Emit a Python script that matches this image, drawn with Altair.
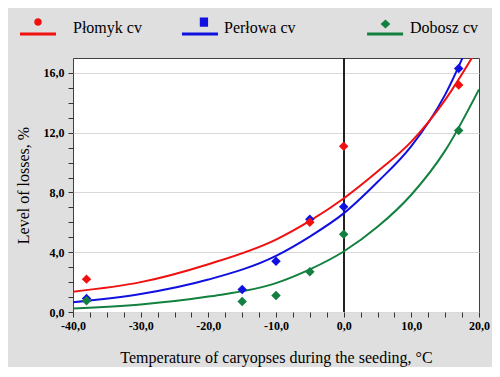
import altair as alt
import pandas as pd

series = ["Płomyk cv", "Perłowa cv", "Dobosz cv"]
colors = ["#f01010", "#1010e0", "#138040"]

plomyk_t = [-38, -5, 0, 17]
plomyk_v = [2.2, 6.0, 11.1, 15.2]
perlowa_t = [-38, -15, -10, -5, 0, 17]
perlowa_v = [0.9, 1.5, 3.4, 6.2, 7.05, 16.3]
dobosz_t = [-38, -15, -10, -5, 0, 17]
dobosz_v = [0.75, 0.7, 1.1, 2.7, 5.2, 12.15]

# trend curves
curve_t = [-40, -30, -20, -10, -5, 0, 5, 10, 15, 20]
plomyk_fit = [1.36, 2.0, 3.2, 4.85, 6.1, 7.6, 9.4, 11.4, 14.2, 17.8]
perlowa_fit = [0.65, 1.2, 2.17, 3.76, 5.05, 6.6, 8.7, 11.1, 14.55, 19.6]
dobosz_fit = [0.23, 0.5, 1.03, 1.93, 2.85, 4.05, 5.7, 7.85, 10.8, 14.9]

x_ticks = [-40 + 2.5 * i for i in range(25)]
y_ticks = list(range(0, 17))

pts_rows = []
for name, ts, vs in [(series[1], perlowa_t, perlowa_v), (series[2], dobosz_t, dobosz_v), (series[0], plomyk_t, plomyk_v)]:
    for t, v in zip(ts, vs):
        pts_rows.append({"series": name, "t": t, "v": v})
pts = pd.DataFrame(pts_rows)

curve_rows = []
for name, vs in [(series[1], perlowa_fit), (series[2], dobosz_fit), (series[0], plomyk_fit)]:
    for t, v in zip(curve_t, vs):
        curve_rows.append({"series": name, "t": t, "v": v})
curves = pd.DataFrame(curve_rows)

FONT = "Liberation Serif"

x_axis = alt.Axis(
    values=x_ticks,
    labelExpr="(datum.value % 10 === 0) ? ((datum.value < 0 ? '-' : '') + replace(format(abs(datum.value), '.1f'), '.', ',')) : ''",
    labelOverlap=False, labelFlush=False,
    gridOpacity={"condition": {"test": "datum.value % 10 === 0", "value": 1}, "value": 0},
    gridColor="#d9d9d9", gridWidth=1,
    domain=False, tickColor="#333333", tickSize=5, tickWidth=1,
    labelFont=FONT, labelFontSize=12, labelFontWeight="bold", labelColor="black", labelPadding=3,
    title="Temperature of caryopses during the seeding, °C",
    titleFont=FONT, titleFontSize=16, titleFontWeight="normal", titleColor="black", titlePadding=18,
)
y_axis = alt.Axis(
    values=y_ticks,
    labelExpr="(datum.value % 4 === 0) ? replace(format(datum.value, '.1f'), '.', ',') : ''",
    labelOverlap=False, labelFlush=False,
    gridOpacity={"condition": {"test": "datum.value % 4 === 0", "value": 1}, "value": 0},
    gridColor="#d9d9d9", gridWidth=1,
    domain=False, tickColor="#333333", tickSize=5, tickWidth=1,
    labelFont=FONT, labelFontSize=12, labelFontWeight="bold", labelColor="black", labelPadding=4,
    title="Level of losses, %",
    titleFont=FONT, titleFontSize=16, titleFontWeight="normal", titleColor="black", titlePadding=12,
)

x_scale = alt.Scale(domain=[-40, 20], nice=False, zero=False)
y_scale = alt.Scale(domain=[0, 17], nice=False, zero=False)
x_enc = alt.X("t:Q", scale=x_scale, axis=x_axis)
y_enc = alt.Y("v:Q", scale=y_scale, axis=y_axis)

# legend scale (shown) and a drawing scale listed in another order so that
# the hidden-legend channels are not merged with the visible legend
col_scale = alt.Scale(domain=series, range=colors)
draw_scale = alt.Scale(domain=series[::-1], range=colors[::-1])

lines = alt.Chart(curves).mark_line(strokeWidth=2, interpolate="monotone", clip=True).encode(
    x=x_enc, y=y_enc,
    stroke=alt.Stroke("series:N", scale=draw_scale, legend=None),
    detail="series:N",
)

zero_rule = alt.Chart(pts).mark_rule(color="#222222", strokeWidth=1.2).encode(x=alt.X(datum=0, scale=x_scale, axis=x_axis))

points = alt.Chart(pts).mark_point(filled=True, shape="diamond", size=90, opacity=1, clip=True).encode(
    x=x_enc, y=y_enc,
    fill=alt.Fill("series:N", scale=draw_scale, legend=None),
)

# legend symbols: line segment + marker (unit box -1..1 = 36 px)
shape_paths = [
    "M-1.5,0.25H0.5V0.41H-1.5Z M-0.71,-0.33A0.21,0.21 0 1,0 -0.29,-0.33A0.21,0.21 0 1,0 -0.71,-0.33Z",
    "M-0.89,0.25H1.11V0.41H-0.89Z M0.1,-0.59H0.56V-0.07H0.1Z",
    "M-0.94,0.25H1.06V0.41H-0.94Z M0.08,-0.47L0.35,-0.22L0.08,0.03L-0.19,-0.22Z",
]

# trailing no-break spaces (kept by a zero-width char) widen the middle entry
legend = alt.Legend(
    orient="none", legendX=-44, legendY=-48, direction="horizontal", title=None,
    symbolSize=1296, symbolStrokeWidth=0, symbolOpacity=1,
    labelFont=FONT, labelFontSize=16, labelColor="black", labelOffset=8,
    columnPadding=38, padding=0,
    labelExpr="datum.label == 'Perłowa cv' ? datum.label + '\u00a0\u00a0\u00a0\u00a0\u00a0\u00a0\u00a0\u00a0\u200b' : datum.label",
)

legend_layer = alt.Chart(pts).mark_point(filled=True, opacity=0).encode(
    x=x_enc, y=y_enc,
    color=alt.Color("series:N", scale=col_scale, legend=legend),
    shape=alt.Shape("series:N", scale=alt.Scale(domain=series, range=shape_paths), legend=legend),
)

chart = alt.layer(zero_rule, lines, points, legend_layer).properties(
    width=406, height=254,
    padding={"left": 65, "top": 50, "right": 13, "bottom": 55},
    autosize=alt.AutoSizeParams(type="none"),
    background="#dfdfdf",
).configure_view(fill="white", stroke="#404040", strokeWidth=1)

chart.save("out.html", embed_options={"renderer": "svg", "actions": False})
